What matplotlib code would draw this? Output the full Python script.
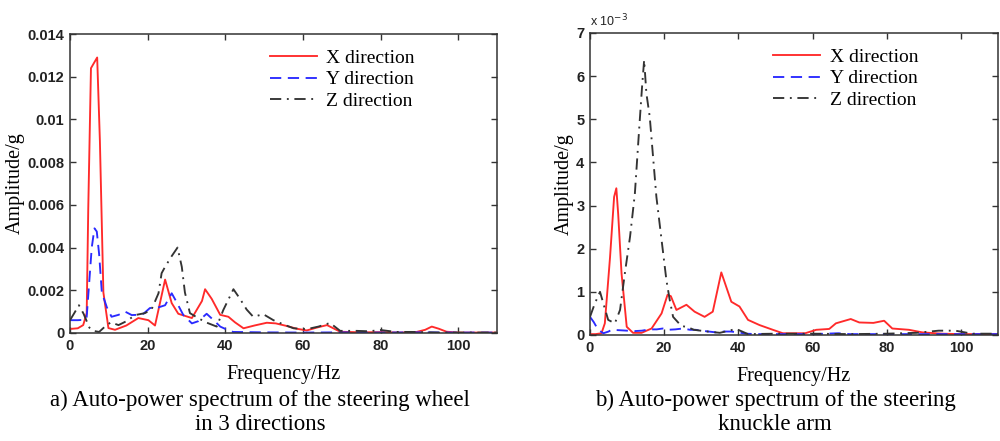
import numpy as np
import matplotlib
matplotlib.use("Agg")
import matplotlib.pyplot as plt

# a) steering wheel, amplitude in units of 1e-3 g
a_x_freq = [0, 2, 3.4, 4.3, 4.7, 5.4, 7.0, 7.7, 8.6, 9.9, 11.6, 14.5, 17.6, 20.2, 21.9, 24.5, 26.2,
            27.9, 31.4, 34.0, 34.8, 36.5, 38.7, 40.8, 42.5, 44.7, 47.5, 50.7, 53, 55.8, 58.4, 61,
            63.5, 66.2, 69.6, 75, 80, 85, 89.3, 91.5, 93.2, 95, 97, 100, 110]
a_x_amp = [0.19, 0.22, 0.37, 0.93, 5.8, 12.4, 12.9, 9.0, 1.9, 0.23, 0.15, 0.35, 0.7, 0.6, 0.35, 2.5,
           1.4, 0.9, 0.7, 1.5, 2.05, 1.6, 0.85, 0.76, 0.5, 0.22, 0.35, 0.48, 0.45, 0.33, 0.2, 0.12,
           0.25, 0.37, 0.06, 0.03, 0.04, 0.02, 0.05, 0.15, 0.3, 0.2, 0.06, 0.02, 0.02]

a_y_freq = [0, 2, 3.9, 4.3, 5.0, 5.6, 6.3, 6.9, 7.5, 8.2, 9.5, 10.7, 12.5, 14.2, 15.9, 17.5, 18.9,
            20.6, 22.3, 24.5, 26.2, 27.3, 29.2, 31.4, 33.0, 35.2, 37, 38.7, 40.5, 42, 50, 60, 70,
            80, 90, 100, 110]
a_y_amp = [0.6, 0.6, 0.62, 0.76, 2.5, 4.0, 4.9, 4.75, 3.7, 1.9, 1.2, 0.76, 0.85, 1.0, 0.84, 0.85,
           0.9, 1.17, 1.17, 1.3, 1.86, 1.5, 0.84, 0.45, 0.55, 0.9, 0.6, 0.3, 0.15, 0.05, 0.03,
           0.02, 0.03, 0.02, 0.03, 0.02, 0.02]

a_z_freq = [0, 1, 2.3, 3.5, 5, 6, 7.5, 9, 10.5, 12.5, 14.5, 16.8, 19.3, 21, 22.8, 23.6, 24.5, 26.2,
            27.7, 28.8, 29.6, 30.9, 33, 35, 37.8, 39.5, 42.1, 43.8, 45.5, 47.2, 49.8, 52.4, 55,
            57.6, 61, 64, 67, 69.6, 73.9, 77, 80, 84, 88, 95, 110]
a_z_amp = [0.6, 0.9, 1.3, 0.9, 0.25, 0.1, 0.05, 0.3, 0.5, 0.37, 0.55, 0.84, 0.93, 1.1, 1.86, 2.8,
           3.1, 3.6, 4.0, 3.1, 1.9, 0.93, 0.7, 0.5, 0.3, 1.08, 2.05, 1.6, 1.1, 0.76, 0.88, 0.6,
           0.4, 0.22, 0.18, 0.3, 0.47, 0.1, 0.1, 0.08, 0.14, 0.05, 0.05, 0.02, 0.02]

# b) knuckle arm, amplitude in units of 1e-3 g
b_x_freq = [0, 1.5, 3.1, 4.0, 5.4, 6.5, 7.1, 7.6, 8.5, 9.9, 11.6, 13.9, 16.6, 19.3, 20.9, 21.8,
            23.3, 26, 28.2, 30.9, 33.1, 35.4, 38.1, 40.3, 42.6, 45.7, 49.3, 52, 58, 61, 64.5,
            66.3, 70.3, 72.6, 76.4, 79.3, 81.5, 86, 89.6, 95, 100, 110]
b_x_amp = [0.02, 0.02, 0.04, 0.27, 1.8, 3.2, 3.4, 2.8, 1.43, 0.19, 0.05, 0.05, 0.15, 0.5, 0.93,
           0.9, 0.58, 0.7, 0.54, 0.42, 0.54, 1.45, 0.77, 0.66, 0.35, 0.23, 0.12, 0.04, 0.04,
           0.12, 0.14, 0.27, 0.37, 0.29, 0.28, 0.33, 0.15, 0.12, 0.06, 0.03, 0.02, 0.02]

b_y_freq = [0, 1, 2.2, 3.6, 5, 5.8, 8, 10, 12, 14, 16, 18, 19.6, 21, 23, 25, 27, 28.5, 30, 32,
            34, 36, 38, 40, 42, 45, 50, 60, 67, 70, 80, 90, 100, 110]
b_y_amp = [0.42, 0.3, 0.12, 0.04, 0.08, 0.12, 0.11, 0.1, 0.09, 0.1, 0.13, 0.13, 0.15, 0.12, 0.13,
           0.15, 0.12, 0.12, 0.1, 0.08, 0.06, 0.08, 0.08, 0.06, 0.03, 0.02, 0.02, 0.02, 0.04,
           0.02, 0.02, 0.02, 0.02, 0.02]

b_z_freq = [0, 1.3, 2.7, 3.6, 4.9, 6.7, 8.1, 9.4, 10.8, 12.1, 13.3, 14.1, 14.6, 15.2, 16.1, 17.0,
            17.9, 19.3, 20.6, 21.5, 22.4, 24.6, 26.4, 28, 31.7, 35, 39.4, 42.6, 50, 60, 70, 80,
            88, 94, 98.5, 103, 110]
b_z_amp = [0.42, 0.73, 1.0, 0.73, 0.35, 0.27, 0.58, 1.43, 2.28, 3.28, 4.83, 5.83, 6.37, 5.6,
           5.06, 4.13, 3.2, 2.2, 1.27, 0.81, 0.42, 0.21, 0.18, 0.12, 0.08, 0.05, 0.14, 0.02,
           0.03, 0.03, 0.02, 0.03, 0.05, 0.1, 0.1, 0.03, 0.03]

labels = ["X direction", "Y direction", "Z direction"]
a_yticks = [0, 0.002, 0.004, 0.006, 0.008, 0.01, 0.012, 0.014]
a_yticklabels = ["0", "0.002", "0.004", "0.006", "0.008", "0.01", "0.012", "0.014"]
b_yticks = [0, 1, 2, 3, 4, 5, 6, 7]
xticks = [0, 20, 40, 60, 80, 100]
captions = ["a) Auto-power spectrum of the steering wheel\nin 3 directions",
            "b) Auto-power spectrum of the steering\nknuckle arm"]

serif = "Liberation Serif"
sans = "Liberation Sans"
colors = ["#ff2a2a", "#2a2aff", "#333333"]
styles = [dict(linestyle="-"), dict(linestyle=(0, (6, 3.5))), dict(linestyle=(0, (6, 3, 1, 3)))]

fig = plt.figure(figsize=(10, 4.41), dpi=100)
ax1 = fig.add_axes([0.07, 0.2449, 0.427, 0.678])
ax2 = fig.add_axes([0.59, 0.2404, 0.408, 0.685])


def style_axis(ax):
    ax.set_xlim(0, 110)
    ax.set_xticks(xticks)
    ax.tick_params(direction="in", top=True, right=True, length=4, width=1, color="#333333",
                   labelsize=10.5, pad=4)
    for lab in ax.get_xticklabels() + ax.get_yticklabels():
        lab.set_fontfamily(sans)
        lab.set_fontweight("bold")
        lab.set_color("#222222")
    for sp in ax.spines.values():
        sp.set_color("#333333")
        sp.set_linewidth(1.1)
    ax.set_xlabel("Frequency/Hz", fontsize=14.5, fontfamily=serif, labelpad=9)
    ax.set_ylabel("Amplitude/g", fontsize=14.5, fontfamily=serif, labelpad=2)


def add_legend(ax, x0):
    ax.legend(loc="upper left", bbox_to_anchor=(x0, 0.975), frameon=False, handlelength=2.4,
              handletextpad=0.5, labelspacing=0.2, borderaxespad=0,
              prop={"family": serif, "size": 14})


# left panel: values in g
a_series = [(a_x_freq, a_x_amp), (a_y_freq, a_y_amp), (a_z_freq, a_z_amp)]
for (f, a), c, st, lab in zip(a_series, colors, styles, labels):
    ax1.plot(f, np.array(a) * 1e-3, color=c, linewidth=1.35, label=lab, **st)
ax1.set_ylim(0, 0.014)
ax1.set_yticks(a_yticks)
ax1.set_yticklabels(a_yticklabels)
style_axis(ax1)
add_legend(ax1, 0.45)

# right panel: values in 1e-3 g
b_series = [(b_x_freq, b_x_amp), (b_y_freq, b_y_amp), (b_z_freq, b_z_amp)]
for (f, a), c, st, lab in zip(b_series, colors, styles, labels):
    ax2.plot(f, a, color=c, linewidth=1.35, label=lab, **st)
ax2.set_ylim(0, 7)
ax2.set_yticks(b_yticks)
style_axis(ax2)
ax2.text(0.0, 1.012, r"x 10$^{-3}$", transform=ax2.transAxes, ha="left", va="bottom",
         fontsize=9, fontfamily=sans, color="#222222")
add_legend(ax2, 0.43)

fig.text(0.26, 0.064, captions[0], ha="center", va="center", fontsize=16.5, fontfamily=serif,
         linespacing=1.2)
fig.text(0.775, 0.064, captions[1], ha="center", va="center", fontsize=16.5, fontfamily=serif,
         linespacing=1.2)

fig.savefig("out.png", dpi=100)
